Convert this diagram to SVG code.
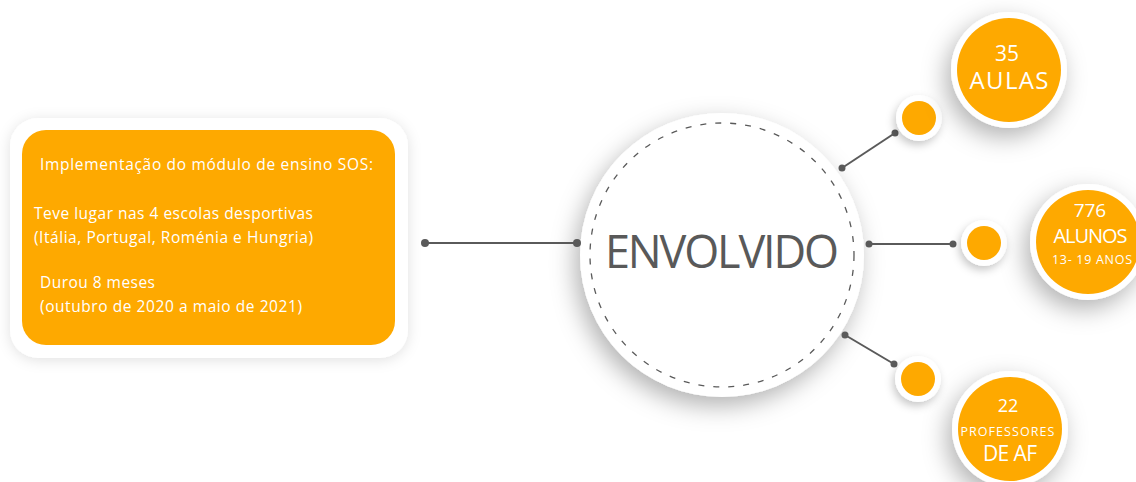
<svg xmlns="http://www.w3.org/2000/svg" width="1136" height="482" viewBox="0 0 1136 482">
  <defs>
    <filter id="softShadow" x="-40%" y="-40%" width="180%" height="180%">
      <feDropShadow dx="-5" dy="9" stdDeviation="12" flood-color="#000" flood-opacity="0.3"/>
    </filter>
    <filter id="boxShadow" x="-10%" y="-15%" width="120%" height="130%">
      <feDropShadow dx="0" dy="2" stdDeviation="7" flood-color="#000" flood-opacity="0.12"/>
    </filter>
    <filter id="dotShadow" x="-50%" y="-50%" width="200%" height="200%">
      <feDropShadow dx="-2" dy="4" stdDeviation="4" flood-color="#000" flood-opacity="0.22"/>
    </filter>
    <style>
      .orange { fill: #FEA900; }
      .ring { fill: #FFFFFF; }
      .link { stroke: #5A5A5A; stroke-width: 2; fill: none; }
      .end { fill: #5A5A5A; }
      .txt { font-family: "Open Sans", "Noto Sans", "Liberation Sans", sans-serif; fill: #FFFFFF; }
      .hub { font-family: "Open Sans", "Noto Sans", "Liberation Sans", sans-serif; fill: #595959; }
    </style>
  </defs>

  <rect width="1136" height="482" fill="#FFFFFF"/>

  <!-- information panel -->
  <g id="info-box">
    <rect x="10" y="118" width="398" height="240" rx="28" class="ring" filter="url(#boxShadow)"/>
    <rect x="22" y="130" width="373" height="215" rx="24" class="orange"/>
    <text class="txt" font-size="15.5">
      <tspan x="40" y="170" textLength="333">Implementação do módulo de ensino SOS:</tspan>
      <tspan x="34" y="219" textLength="279">Teve lugar nas 4 escolas desportivas</tspan>
      <tspan x="34" y="243" textLength="279">(Itália, Portugal, Roménia e Hungria)</tspan>
      <tspan x="40" y="288" textLength="115">Durou 8 meses</tspan>
      <tspan x="40" y="312" textLength="262">(outubro de 2020 a maio de 2021)</tspan>
    </text>
  </g>

  <!-- central hub -->
  <g id="hub">
    <circle cx="722" cy="255" r="142" fill="#FFFFFF" filter="url(#softShadow)"/>
    <circle cx="722" cy="255" r="132" fill="none" stroke="#5A5A5A" stroke-width="1.3" stroke-dasharray="6 9"/>
    <text class="hub" x="722" y="268" font-size="45" text-anchor="middle" textLength="234">ENVOLVIDO</text>
  </g>

  <!-- connectors -->
  <g id="connectors">
    <line class="link" x1="425" y1="243" x2="577" y2="243"/>
    <circle class="end" cx="425" cy="243" r="4"/>
    <circle class="end" cx="577" cy="243" r="4"/>

    <line class="link" x1="842" y1="168" x2="895" y2="133"/>
    <circle class="end" cx="842" cy="168" r="3.5"/>
    <circle class="end" cx="895" cy="133" r="3.5"/>

    <line class="link" x1="869" y1="244" x2="953" y2="244"/>
    <circle class="end" cx="869" cy="244" r="3.5"/>
    <circle class="end" cx="953" cy="244" r="3.5"/>

    <line class="link" x1="845" y1="335" x2="894" y2="364"/>
    <circle class="end" cx="845" cy="335" r="3.5"/>
    <circle class="end" cx="894" cy="364" r="3.5"/>
  </g>

  <!-- small junction dots -->
  <g id="dot-top">
    <circle cx="919" cy="118" r="23" class="ring" filter="url(#dotShadow)"/>
    <circle cx="919" cy="118" r="17" class="orange"/>
  </g>
  <g id="dot-mid">
    <circle cx="984" cy="243" r="23" class="ring" filter="url(#dotShadow)"/>
    <circle cx="984" cy="243" r="17" class="orange"/>
  </g>
  <g id="dot-bottom">
    <circle cx="918" cy="379" r="23" class="ring" filter="url(#dotShadow)"/>
    <circle cx="918" cy="379" r="17" class="orange"/>
  </g>

  <!-- figure bubbles -->
  <g id="aulas">
    <circle cx="1009" cy="70" r="58" class="ring" filter="url(#softShadow)"/>
    <circle cx="1009" cy="70" r="52" class="orange"/>
    <text class="txt" text-anchor="middle">
      <tspan x="1009" y="61" font-size="21">35</tspan>
      <tspan x="1009" y="89" font-size="24" textLength="79">AULAS</tspan>
    </text>
  </g>

  <g id="alunos">
    <circle cx="1088" cy="242" r="58" class="ring" filter="url(#softShadow)"/>
    <circle cx="1088" cy="242" r="52" class="orange"/>
    <text class="txt" text-anchor="middle">
      <tspan x="1092" y="217" font-size="19">776</tspan>
      <tspan x="1092" y="243" font-size="20" textLength="74">ALUNOS</tspan>
      <tspan x="1092" y="264" font-size="12.5" textLength="80">13- 19 ANOS</tspan>
    </text>
  </g>

  <g id="professores">
    <circle cx="1010" cy="429" r="58" class="ring" filter="url(#softShadow)"/>
    <circle cx="1010" cy="429" r="52" class="orange"/>
    <text class="txt" text-anchor="middle">
      <tspan x="1010" y="412" font-size="18">22</tspan>
      <tspan x="1010" y="436" font-size="12.5" textLength="94">PROFESSORES</tspan>
      <tspan x="1010" y="461" font-size="21" textLength="54">DE AF</tspan>
    </text>
  </g>
</svg>
